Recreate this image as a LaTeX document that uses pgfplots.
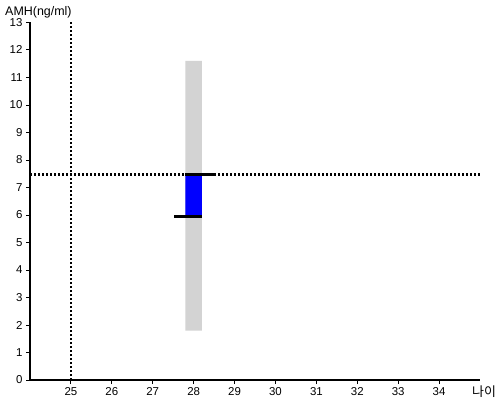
\documentclass[border=0pt]{standalone}
\usepackage{pgfplots}
\pgfplotsset{compat=1.18}
\usepackage{fontspec}
\setmainfont{Liberation Sans}
\newfontfamily\kr{Noto Sans CJK KR}
\definecolor{barblue}{RGB}{0,0,255}
\definecolor{bargray}{RGB}{211,211,211}
\begin{document}
\begin{tikzpicture}[x=1bp,y=1bp]
\path (-30,-20) rectangle (470,380);
\begin{axis}[
  at={(0,0)}, anchor=south west,
  scale only axis, width=450bp, height=357.5bp,
  xmin=24, xmax=35, ymin=0, ymax=13,
  axis x line*=bottom, axis y line*=left,
  axis line style={black, line width=1.3bp, -},
  xtick={25,...,34}, ytick={0,...,13},
  tick align=outside, major tick length=4bp,
  tick style={black, line width=1bp},
  tick label style={font=\fontsize{11.5}{13}\selectfont},
  /pgf/number format/assume math mode=true,
  clip=false,
]
\addplot[black, line width=2.2bp, dash pattern=on 2bp off 2bp] coordinates {(24,7.47) (35,7.47)};
\addplot[black, line width=2.2bp, dash pattern=on 2bp off 2bp] coordinates {(25,0) (25,13)};
\addplot[fill=bargray, draw=none] coordinates {(27.8,1.8) (28.2,1.8) (28.2,11.6) (27.8,11.6) (27.8,1.8)};
\addplot[fill=barblue, draw=none] coordinates {(27.8,5.94) (28.2,5.94) (28.2,7.47) (27.8,7.47) (27.8,5.94)};
\addplot[black, line width=2.5bp] coordinates {(27.8,7.47) (28.52,7.47)};
\addplot[black, line width=2.5bp] coordinates {(27.52,5.94) (28.2,5.94)};
\end{axis}
\node[anchor=base west, inner sep=0, font=\fontsize{12.5}{14}\selectfont] at (-25,365) {AMH(ng/ml)};
\node[anchor=west, inner sep=0, font=\kr\fontsize{13}{15}\selectfont] at (442,-12) {나이};
\end{tikzpicture}
\end{document}
